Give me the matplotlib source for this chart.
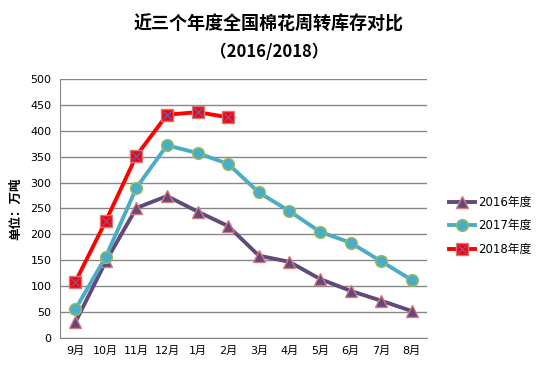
import matplotlib
matplotlib.use('Agg')
import matplotlib.pyplot as plt
from matplotlib.legend_handler import HandlerTuple

plt.rcParams['font.family'] = ['DejaVu Sans', 'Noto Sans CJK SC']

months = ['9月', '10月', '11月', '12月', '1月', '2月', '3月', '4月', '5月', '6月', '7月', '8月']
y2016 = [30, 148, 251, 274, 244, 216, 159, 147, 114, 91, 72, 52]
y2017 = [55, 157, 290, 372, 357, 336, 281, 245, 205, 184, 148, 112]
y2018 = [108, 226, 352, 431, 436, 426]

fig = plt.figure(figsize=(5.38, 3.74), dpi=100)
ax = fig.add_axes([0.1115, 0.0963, 0.6822, 0.6925])

x = list(range(len(months)))
ax.plot(x, y2016, color='#604A7B', lw=2.8, marker='^', ms=8.5,
        mfc='#604A7B', mec='#D9777A', mew=1, label='2016年度', zorder=3)
ax.plot(x, y2017, color='#4BACC6', lw=2.8, marker='o', ms=8.5,
        mfc='#4BACC6', mec='#9BBB59', mew=1, label='2017年度', zorder=3)
l18, = ax.plot(x[:len(y2018)], y2018, color='#FF0000', lw=2.8, marker='s', ms=8.5,
               mfc='#FF0000', mec='#D9777A', mew=1, zorder=4)
x18, = ax.plot(x[:len(y2018)], y2018, ls='none', marker='x', ms=6,
               mec='#4F6BD8', mew=0.8, zorder=5)

ax.set_xlim(-0.5, len(months) - 0.5)
ax.set_ylim(0, 500)
ax.set_yticks(range(0, 501, 50))
ax.set_xticks(x)
ax.set_xticklabels(months)
ax.tick_params(axis='both', length=0, labelsize=8, pad=6)
ax.grid(axis='y', color='#878787', lw=1)
ax.set_axisbelow(True)
for s in ['top', 'right']:
    ax.spines[s].set_visible(False)
for s in ['left', 'bottom']:
    ax.spines[s].set_color('#878787')
ax.set_ylabel('单位：万吨', fontsize=9, fontweight='bold', labelpad=6,
              family=['Noto Sans CJK SC', 'DejaVu Sans'])

h, lab = ax.get_legend_handles_labels()
h.append((l18, x18))
lab.append('2018年度')
fig.legend(h, lab, loc='upper left', bbox_to_anchor=(0.815, 0.505),
           frameon=False, fontsize=8.5, handlelength=2.2, handletextpad=0.3,
           labelspacing=0.9, handler_map={tuple: HandlerTuple(ndivide=1, pad=0)})

cjk = ['Noto Sans CJK SC', 'DejaVu Sans']
fig.text(0.5, 0.935, '近三个年度全国棉花周转库存对比', ha='center', va='center',
         fontsize=13, fontweight='bold', family=cjk)
fig.text(0.5, 0.862, '（2016/2018）', ha='center', va='center',
         fontsize=12, fontweight='bold', family=cjk)

fig.savefig('out.png', dpi=100)
